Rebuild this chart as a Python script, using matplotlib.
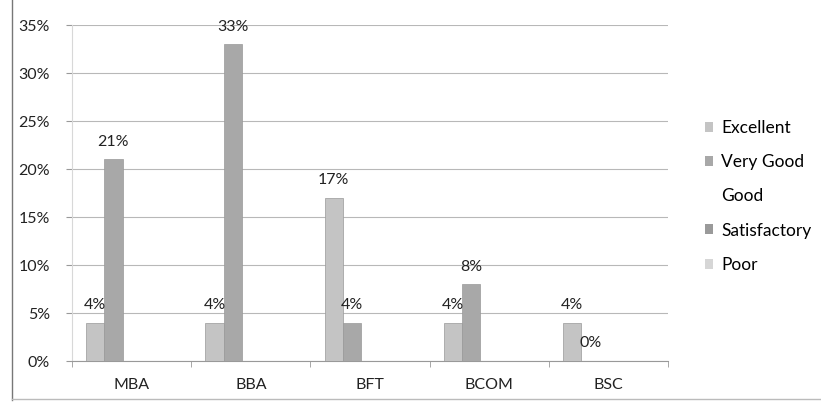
import numpy as np
import matplotlib.pyplot as plt
from matplotlib.lines import Line2D

plt.rcParams["font.family"] = ["Lato", "DejaVu Sans"]

courses = ["MBA", "BBA", "BFT", "BCOM", "BSC"]
series_names = ["Excellent", "Very Good", "Good", "Satisfactory", "Poor"]

# values in percent, None = no bar / no label
excellent = [4, 4, 17, 4, 4]
very_good = [21, 33, 4, 8, 0]
good = [None, None, None, None, None]
satisfactory = [None, None, None, None, None]
poor = [None, None, None, None, None]

y_ticks = [0, 5, 10, 15, 20, 25, 30, 35]

series = [excellent, very_good, good, satisfactory, poor]
colors = ["#c4c4c4", "#a8a8a8", "#ffffff", "#9a9a9a", "#d6d6d6"]

fig = plt.figure(figsize=(8.21, 4.04), dpi=100)
ax = fig.add_axes([0.0877, 0.1064, 0.726, 0.8317])

x = np.arange(len(courses))
w = 0.1525
for i, (name, vals, c) in enumerate(zip(series_names, series, colors)):
    v = np.array([np.nan if a is None else a for a in vals], dtype=float) / 100
    pos = x + (i - 2) * w
    ax.bar(pos, v, width=w, color=c, edgecolor="#999999", linewidth=0.5,
           label=name, zorder=3)
    for xp, val in zip(pos, v):
        if not np.isnan(val):
            ax.text(xp, val + 0.011, f"{val*100:.0f}%", ha="center",
                    va="bottom", fontsize=11.5, color="#222222", zorder=4)

ax.set_xlim(-0.5, len(courses) - 0.5)
ax.set_ylim(0, 0.35)
ax.set_yticks([t / 100 for t in y_ticks])
ax.set_yticklabels([f"{t}%" for t in y_ticks], fontsize=11.5, color="#222222")
ax.set_xticks(x)
ax.set_xticklabels(courses, fontsize=11.5, color="#222222")
ax.set_xticks(np.arange(-0.5, len(courses), 1), minor=True)
ax.tick_params(axis="x", which="major", length=0, pad=12)
ax.tick_params(axis="x", which="minor", length=4, color="#999999")
ax.tick_params(axis="y", length=4, color="#999999", pad=12)

ax.grid(axis="y", color="#b8b8b8", linewidth=0.8, zorder=0)
for s in ["top", "right"]:
    ax.spines[s].set_visible(False)
ax.spines["left"].set_color("#d8d8d8")
ax.spines["bottom"].set_color("#999999")

leg = ax.legend(loc="center left", bbox_to_anchor=(1.035, 0.49), frameon=False,
                fontsize=12.5, handlelength=0.5, handleheight=0.5,
                labelspacing=1.05, handletextpad=0.45)
for h in leg.legend_handles:
    h.set_edgecolor("none")

# border of the scanned chart area
fig.add_artist(Line2D([0.015, 0.015], [0.01, 1.0], color="#777777", lw=1))
fig.add_artist(Line2D([0.015, 1.0], [0.012, 0.012], color="#bbbbbb", lw=1))

fig.savefig("out.png", dpi=100)
